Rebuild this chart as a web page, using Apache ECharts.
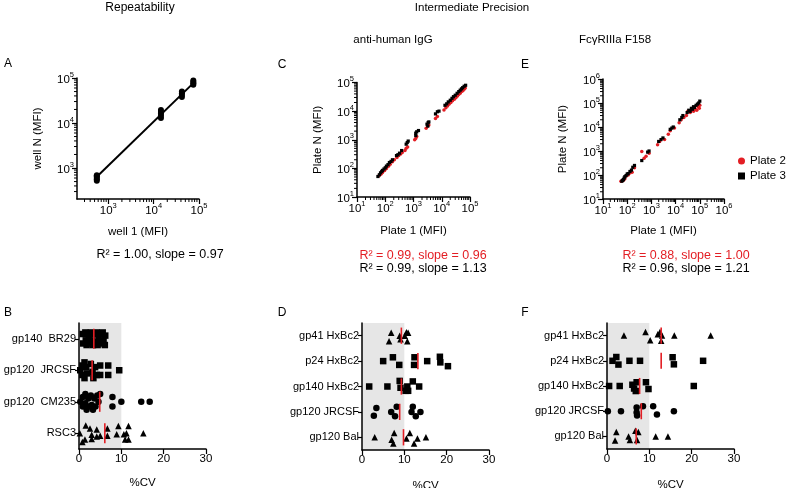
<!DOCTYPE html>
<html><head><meta charset="utf-8">
<script src="https://cdn.jsdelivr.net/npm/echarts@6/dist/echarts.min.js"></script>
<style>html,body{margin:0;padding:0;background:#fff}#c{width:787px;height:488px}</style>
</head><body><div id="c"></div>
<script>
const FONT = '"Liberation Sans", Arial, sans-serif';
const RED = '#e31e24';

// ---------- Panel A (repeatability) ----------
const aRange = [205, 100000];
const aPoints = [[560,520],[560,565],[560,610],[560,655],[560,690],
  [14500,13000],[14500,14500],[14500,16000],[14500,17500],[14500,19500],
  [42000,38000],[42000,42000],[42000,46000],[42000,50000],
  [75000,71000],[75000,76000],[75000,82000],[75000,88000]];
const aFit = [[560,640],[78000,80000]];

// ---------- Panel C (anti-human IgG) ----------
const cRange = [10, 100000];
const cPlate2 = [[60,55],[70,62],[80,72],[95,85],[110,100],[130,118],[150,140],[180,170],[210,200],
  [260,240],[300,280],[350,320],[400,360],[500,420],[550,500],[620,560],
  [1100,1000],[1200,1100],[1300,1300],[2800,2500],[3200,3000],[3500,3300],
  [6000,5500],[7000,6500],[12000,11000],[14000,13000],[16000,15000],[18000,17500],
  [21000,20000],[24000,23000],[28000,26000],[32000,30000],[36000,34000],[40000,38000],
  [45000,42000],[50000,48000],[56000,52000],[62000,58000],[68000,64000]];
const cPlate3 = [[55,52],[62,60],[68,70],[75,78],[80,85],[90,95],[100,105],[110,120],[125,135],
  [140,160],[160,175],[180,200],[250,280],[280,300],[320,340],[380,420],
  [550,700],[600,800],[650,900],[1200,1700],[1300,1900],[1500,2100],[1200,1400],
  [3000,3500],[3300,4000],[3500,4200],[3200,3000],[6000,8000],[7000,9500],[8000,10000],
  [13000,16000],[15000,18000],[17000,21000],[20000,24000],[23000,28000],[26000,32000],
  [30000,36000],[35000,42000],[40000,48000],[45000,54000],[50000,60000],[55000,66000],
  [62000,74000],[70000,80000]];

// ---------- Panel E (FcγRIIIa F158) ----------
const eRange = [10, 1000000];
const ePlate2 = [[55,55],[62,58],[70,60],[80,70],[90,90],[110,100],[130,120],[160,130],[200,200],
  [400,950],[500,500],[600,600],[800,800],[1800,1800],[2200,2500],[3500,3000],
  [5000,5000],[6000,7000],[9000,9000],[14000,15000],[17000,20000],[22000,25000],
  [28000,30000],[32000,45000],[40000,40000],[45000,50000],[50000,60000],[55000,45000],
  [65000,55000],[75000,50000],[85000,70000],[95000,60000],[100000,80000]];
const ePlate3 = [[60,55],[65,60],[70,65],[75,75],[80,85],[90,95],[100,110],[110,115],[130,140],
  [150,160],[170,210],[200,250],[400,400],[700,900],[800,1000],[2000,2500],[2500,3000],
  [3000,3500],[6000,8000],[7000,9000],[8000,10000],[15000,20000],[18000,25000],[20000,30000],
  [30000,40000],[35000,50000],[40000,45000],[45000,60000],[50000,55000],[55000,70000],
  [60000,65000],[70000,80000],[80000,90000],[90000,100000],[100000,120000]];

// ---------- Panel B (%CV, repeatability) : [value, vertical jitter] ----------
const catB = ['gp140  BR29','gp120  JRCSF','gp120  CM235','RSC3'];
const symB = ['rect','triangle-down','circle','triangle'];
const meanB = [3.5, 3.1, 4.9, 6.1];
const cvB = [
  [[0.9,-0.15],[1.0,0.15],[1.5,-0.2],[1.6,0.05],[1.8,0.2],[2.3,-0.1],[2.5,0.15],[2.8,-0.2],[3.0,0.05],[3.3,0.2],[3.6,-0.15],[3.9,0.1],[4.2,-0.2],[4.4,0.2],[4.6,0.0],[4.9,-0.15],[5.2,0.15],[5.6,-0.2],[5.8,0.05],[6.1,0.2],[6.2,-0.1]],
  [[0.3,0.0],[0.8,-0.15],[0.8,0.15],[1.3,-0.25],[1.3,0.25],[1.7,-0.1],[1.9,0.1],[2.8,-0.2],[3.2,0.05],[3.4,0.25],[3.8,-0.1],[4.2,0.15],[5.0,-0.15],[5.0,0.15],[6.9,-0.15],[6.9,0.15],[9.5,0.0]],
  [[0.3,0.0],[0.9,-0.15],[0.9,0.15],[1.5,-0.25],[1.5,0.05],[1.8,0.25],[2.2,-0.1],[2.4,0.15],[2.8,-0.2],[3.0,0.1],[3.3,0.25],[3.6,-0.1],[3.9,0.15],[4.3,-0.2],[4.6,0.0],[5.0,-0.25],[7.9,-0.15],[7.9,0.15],[10.0,0.0],[14.7,0.0],[16.7,0.0]],
  [[0.2,0.0],[0.8,0.28],[1.6,-0.25],[1.4,0.2],[2.6,-0.15],[3.0,0.05],[3.0,0.18],[4.2,-0.12],[4.2,0.1],[5.0,0.08],[6.7,-0.15],[6.7,0.08],[8.9,0.03],[9.3,-0.23],[10.6,0.03],[10.9,0.2],[11.7,0.2],[11.2,0.0],[11.7,-0.23],[15.2,0.0]]
];

// ---------- Panel D (%CV, anti-human IgG) ----------
const catD = ['gp41 HxBc2','p24 HxBc2','gp140 HxBc2','gp120 JRCSF','gp120 Bal'];
const symDF = ['triangle','rect','triangle-down','circle','triangle'];
const meanD = [9.3, 13.2, 9.3, 8.9, 9.8];
const cvD = [
  [[6.9,-0.12],[6.4,0.22],[8.9,0.0],[9.1,0.14],[10.1,0.0],[10.5,-0.14],[10.9,-0.12],[10.7,0.22]],
  [[5.0,0.0],[7.3,-0.15],[8.8,0.15],[12.4,-0.15],[12.3,0.15],[15.4,0.0],[18.4,-0.17],[18.5,0.05],[20.3,0.2]],
  [[1.7,0.0],[6.0,0.0],[8.9,-0.22],[9.1,0.05],[10.3,0.17],[10.9,0.17],[10.7,0.0],[12.0,-0.2],[13.5,0.0]],
  [[3.4,-0.15],[2.8,0.15],[6.9,0.0],[7.8,0.17],[8.2,-0.2],[12.0,-0.2],[11.7,0.0],[12.7,0.17],[13.8,0.0]],
  [[3.0,0.0],[7.6,-0.17],[7.0,0.1],[7.4,0.24],[11.3,-0.17],[10.5,0.05],[12.3,0.24],[13.1,0.05],[15.1,0.0]]
];

// ---------- Panel F (%CV, FcγRIIIa) ----------
const catF = ['gp41 HxBc2','p24 HxBc2','gp140 HxBc2','gp120 JRCSF','gp120 Bal'];
const meanF = [12.8, 12.8, 7.7, 8.1, 6.9];
const cvF = [
  [[4.0,0.0],[9.1,-0.14],[10.2,0.18],[12.0,-0.05],[12.5,-0.14],[13.0,0.0],[12.8,0.2],[15.9,0.0],[24.5,0.0]],
  [[1.3,0.0],[2.2,-0.15],[2.7,0.15],[5.3,0.0],[7.8,0.0],[15.5,-0.14],[15.8,0.14],[22.7,0.0]],
  [[0.5,0.0],[3.0,0.0],[6.0,-0.05],[6.4,0.1],[6.8,0.2],[7.0,-0.15],[9.2,-0.15],[9.8,0.12],[20.5,0.0]],
  [[0.2,0.0],[3.3,0.0],[7.0,-0.15],[7.0,0.05],[7.1,0.17],[8.5,-0.2],[10.9,-0.2],[11.8,0.13],[15.8,0.0]],
  [[2.2,-0.17],[1.9,0.16],[5.1,0.0],[5.4,0.14],[6.7,-0.22],[7.4,-0.17],[7.1,0.14],[11.5,0.0],[14.4,0.0]]
];
const shadeRange = [0, 10];
const cvRange = [0, 30];

// ================= build option =================
const grids = [
  {left:77, top:78, width:122, height:121},
  {left:357, top:82.5, width:113, height:114.5},
  {left:603, top:79, width:121, height:120},
  {left:79, top:323, width:127, height:126},
  {left:362, top:323, width:127, height:127},
  {left:607, top:323, width:127, height:126}
];
const axLine = {show:true, onZero:false, lineStyle:{color:'#000', width:1.5}};
const axTick = {show:true, inside:false, length:5, lineStyle:{color:'#000', width:1.2}};
const richSup = {
  b:{fontSize:11.5, fontFamily:FONT, color:'#000', lineHeight:15, verticalAlign:'bottom'},
  s:{fontSize:7.5, fontFamily:FONT, color:'#000', lineHeight:15, verticalAlign:'top'}
};
function logLabel(v){ const e=Math.round(Math.log10(v)); return '{b|10}{s|'+e+'}'; }
function logAxis(gi, range, name, gap, isY){
  return {
    type:'log', logBase:10, gridIndex:gi, min:range[0], max:range[1],
    name:name, nameLocation:'middle', nameGap:gap,
    nameTextStyle:{fontSize:11.5, fontFamily:FONT, color:'#000'},
    axisLine:axLine, axisTick:axTick, splitLine:{show:false},
    axisLabel:{formatter:logLabel, rich:richSup, margin:isY?3:3, showMinLabel: (range[0]===10), hideOverlap:false}
  };
}
function cvXAxis(gi, gap){
  return {type:'value', gridIndex:gi, min:cvRange[0], max:cvRange[1], interval:10,
    name:'%CV', nameLocation:'middle', nameGap:gap,
    nameTextStyle:{fontSize:11.5, fontFamily:FONT, color:'#000'},
    axisLine:axLine, axisTick:axTick, splitLine:{show:false},
    axisLabel:{fontSize:11.5, fontFamily:FONT, color:'#000', margin:4}};
}
function catAxis(gi, cats){
  return {type:'category', gridIndex:gi, data:cats, inverse:true, boundaryGap:true,
    axisLine:axLine, axisTick:Object.assign({alignWithLabel:true}, axTick, {length:4}),
    axisLabel:{fontSize:11, fontFamily:FONT, color:'#000', margin:3}, splitLine:{show:false}};
}
function hiddenY(gi, n){
  return {type:'value', gridIndex:gi, min:-0.5, max:n-0.5, inverse:true, show:false, splitLine:{show:false}};
}

const xAxis = [
  logAxis(0, aRange, 'well 1 (MFI)', 27, false),
  logAxis(1, cRange, 'Plate 1 (MFI)', 28, false),
  logAxis(2, eRange, 'Plate 1 (MFI)', 26, false),
  cvXAxis(3, 28), cvXAxis(4, 30), cvXAxis(5, 30)
];
const yAxis = [
  logAxis(0, aRange, 'well N (MFI)', 33, true),
  logAxis(1, cRange, 'Plate N (MFI)', 33, true),
  logAxis(2, eRange, 'Plate N (MFI)', 34, true),
  catAxis(3, catB), catAxis(4, catD), catAxis(5, catF),
  hiddenY(3, catB.length), hiddenY(4, catD.length), hiddenY(5, catF.length)
];

function minorVals(lo, hi){
  const out=[];
  for(let k=Math.floor(Math.log10(lo)); k<Math.ceil(Math.log10(hi)); k++){
    for(let m=2;m<=9;m++){ const v=m*Math.pow(10,k); if(v>lo*1.0001 && v<hi*0.9999) out.push(v); }
  }
  return out;
}
function minorTicks(gi, range){
  const vals = minorVals(range[0], range[1]);
  return [
    {type:'custom', xAxisIndex:gi, yAxisIndex:gi, silent:true, clip:false, z:1,
      data: vals.map(v=>[v, range[0]]),
      renderItem:(p, api)=>{ const c=api.coord([api.value(0), api.value(1)]);
        return {type:'line', shape:{x1:c[0],y1:c[1],x2:c[0],y2:c[1]+3}, style:{stroke:'#000', lineWidth:1}}; }},
    {type:'custom', xAxisIndex:gi, yAxisIndex:gi, silent:true, clip:false, z:1,
      data: vals.map(v=>[range[0], v]),
      renderItem:(p, api)=>{ const c=api.coord([api.value(0), api.value(1)]);
        return {type:'line', shape:{x1:c[0],y1:c[1],x2:c[0]-3,y2:c[1]}, style:{stroke:'#000', lineWidth:1}}; }}
  ];
}

const series = [];
// Panel A
series.push({type:'line', xAxisIndex:0, yAxisIndex:0, data:aFit, symbol:'none', lineStyle:{color:'#000', width:2}, z:2});
series.push({type:'scatter', xAxisIndex:0, yAxisIndex:0, data:aPoints, symbol:'circle', symbolSize:6, itemStyle:{color:'#000', opacity:1}, z:3});
series.push(...minorTicks(0, aRange));
// Panel C
series.push({name:'Plate 2', type:'scatter', xAxisIndex:1, yAxisIndex:1, data:cPlate2, symbol:'circle', symbolSize:3.5, itemStyle:{color:RED, opacity:1}, z:3});
series.push({name:'Plate 3', type:'scatter', xAxisIndex:1, yAxisIndex:1, data:cPlate3, symbol:'rect', symbolSize:3.2, itemStyle:{color:'#000', opacity:1}, z:4});
series.push(...minorTicks(1, cRange));
// Panel E
series.push({name:'Plate 2', type:'scatter', xAxisIndex:2, yAxisIndex:2, data:ePlate2, symbol:'circle', symbolSize:3.5, itemStyle:{color:RED, opacity:1}, z:3});
series.push({name:'Plate 3', type:'scatter', xAxisIndex:2, yAxisIndex:2, data:ePlate3, symbol:'rect', symbolSize:3.2, itemStyle:{color:'#000', opacity:1}, z:4});
series.push(...minorTicks(2, eRange));

// CV panels
function cvPanel(gi, hy, cats, syms, vals, means){
  const n = cats.length;
  series.push({type:'custom', xAxisIndex:gi, yAxisIndex:hy, silent:true, z:0,
    data:[[shadeRange[0], shadeRange[1]]],
    renderItem:(p, api)=>{
      const a=api.coord([api.value(0), -0.5]); const b=api.coord([api.value(1), n-0.5]);
      return {type:'rect', shape:{x:Math.min(a[0],b[0]), y:Math.min(a[1],b[1]), width:Math.abs(b[0]-a[0]), height:Math.abs(b[1]-a[1])}, style:{fill:'#e6e6e6'}};
    }});
  vals.forEach((pts, i)=>{
    series.push({type:'scatter', xAxisIndex:gi, yAxisIndex:hy, symbol:syms[i], symbolSize:6.5,
      itemStyle:{color:'#000', opacity:1}, z:3, data:pts.map(p=>[p[0], i+p[1]])});
  });
  series.push({type:'custom', xAxisIndex:gi, yAxisIndex:hy, silent:true, z:5,
    data: means.map((m,i)=>[m,i]),
    renderItem:(p, api)=>{
      const a=api.coord([api.value(0), api.value(1)-0.32]); const b=api.coord([api.value(0), api.value(1)+0.32]);
      return {type:'line', shape:{x1:a[0],y1:a[1],x2:b[0],y2:b[1]}, style:{stroke:RED, lineWidth:1.6}};
    }});
}
cvPanel(3, 6, catB, symB, cvB, meanB);
cvPanel(4, 7, catD, symDF, cvD, meanD);
cvPanel(5, 8, catF, symDF, cvF, meanF);

function txt(x, y, s, opts){
  return {type:'text', x:x, y:y, style:Object.assign({text:s, fill:'#000', font:'11.5px '+FONT, textAlign:'center', textVerticalAlign:'middle'}, opts||{})};
}
const graphic = [
  txt(140, 8, 'Repeatability', {font:'12px '+FONT}),
  txt(472, 8, 'Intermediate Precision'),
  txt(393, 40, 'anti-human IgG'),
  txt(615, 40, 'FcγRIIIa F158'),
  txt(8, 64, 'A', {font:'12px '+FONT}),
  txt(282, 65, 'C', {font:'12px '+FONT}),
  txt(525, 65, 'E', {font:'12px '+FONT}),
  txt(8, 313, 'B', {font:'12px '+FONT}),
  txt(282, 313, 'D', {font:'12px '+FONT}),
  txt(525, 313, 'F', {font:'12px '+FONT}),
  txt(160, 255, 'R² = 1.00, slope = 0.97', {font:'12.5px '+FONT}),
  txt(423, 256, 'R² = 0.99, slope = 0.96', {font:'12.5px '+FONT, fill:RED}),
  txt(423, 269, 'R² = 0.99, slope = 1.13', {font:'12.5px '+FONT}),
  txt(686, 256, 'R² = 0.88, slope = 1.00', {font:'12.5px '+FONT, fill:RED}),
  txt(686, 269, 'R² = 0.96, slope = 1.21', {font:'12.5px '+FONT})
];

const chart = echarts.init(document.getElementById('c'), null, {renderer:'canvas'});
chart.setOption({
  animation:false,
  backgroundColor:'#fff',
  textStyle:{fontFamily:FONT},
  grid:grids.map(g=>Object.assign({containLabel:false, outerBoundsMode:'none'}, g)),
  xAxis:xAxis, yAxis:yAxis, series:series, graphic:graphic,
  legend:{data:['Plate 2','Plate 3'], orient:'vertical', left:733, top:150, itemWidth:7, itemHeight:7, itemGap:3,
    textStyle:{fontSize:11.5, fontFamily:FONT, color:'#000'}, selectedMode:false}
});
</script></body></html>
